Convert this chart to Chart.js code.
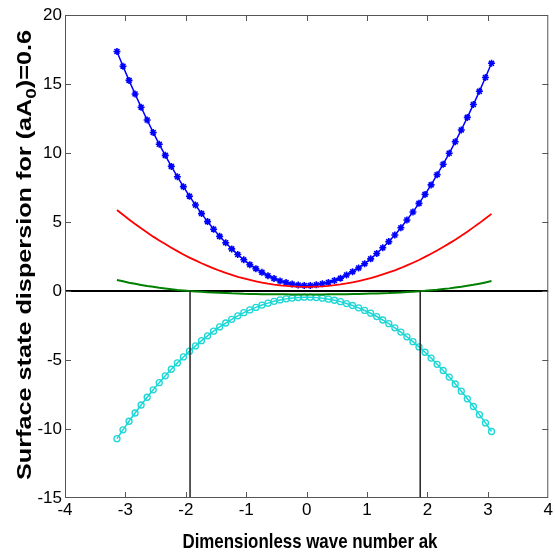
<!DOCTYPE html>
<html>
<head>
<meta charset="utf-8">
<script src="https://cdn.jsdelivr.net/npm/chart.js@4/dist/chart.umd.min.js"></script>
<style>
  html, body { margin: 0; padding: 0; background: #fff; }
</style>
</head>
<body>
<canvas id="chart" width="555" height="559"></canvas>
<script>
// --- data ---
const waveNumber = [-3.14,-3.04,-2.94,-2.84,-2.74,-2.64,-2.54,-2.44,-2.34,-2.24,-2.14,-2.04,-1.94,-1.84,-1.74,-1.64,
  -1.54,-1.44,-1.34,-1.24,-1.14,-1.04,-0.94,-0.84,-0.74,-0.64,-0.54,-0.44,-0.34,-0.24,-0.14,-0.04,
  0.06,0.16,0.26,0.36,0.46,0.56,0.66,0.76,0.86,0.96,1.06,1.16,1.26,1.36,1.46,1.56,
  1.66,1.76,1.86,1.96,2.06,2.16,2.26,2.36,2.46,2.56,2.66,2.76,2.86,2.96,3.06];

const blueBand = [17.36,16.29,15.26,14.28,13.32,12.39,11.49,10.63,9.83,9.03,8.28,7.56,6.87,6.23,5.61,5.03,
  4.48,3.96,3.50,3.05,2.64,2.26,1.91,1.62,1.35,1.11,0.90,0.73,0.61,0.50,0.43,0.40,
  0.40,0.45,0.52,0.62,0.76,0.93,1.16,1.40,1.67,1.98,2.33,2.72,3.13,3.58,4.06,4.58,
  5.15,5.73,6.35,7.00,7.69,8.43,9.19,9.98,10.81,11.67,12.58,13.51,14.47,15.47,16.50];

const redBand = [5.87,5.52,5.18,4.86,4.54,4.24,3.94,3.66,3.40,3.14,2.89,2.65,2.42,2.22,2.01,1.82,
  1.64,1.47,1.32,1.17,1.03,0.91,0.80,0.70,0.61,0.53,0.46,0.41,0.37,0.33,0.31,0.30,
  0.30,0.32,0.34,0.37,0.42,0.48,0.55,0.63,0.72,0.82,0.93,1.06,1.20,1.35,1.50,1.67,
  1.86,2.05,2.25,2.47,2.70,2.94,3.19,3.45,3.72,4.00,4.30,4.61,4.92,5.25,5.59];

const greenBand = [0.80,0.70,0.60,0.52,0.44,0.36,0.30,0.23,0.18,0.13,0.08,0.04,0.00,-0.03,-0.06,-0.09,
  -0.11,-0.13,-0.15,-0.17,-0.18,-0.20,-0.21,-0.22,-0.23,-0.23,-0.24,-0.24,-0.24,-0.25,-0.25,-0.25,
  -0.25,-0.25,-0.25,-0.24,-0.24,-0.24,-0.23,-0.22,-0.21,-0.20,-0.19,-0.18,-0.16,-0.15,-0.13,-0.11,
  -0.08,-0.05,-0.02,0.01,0.05,0.09,0.14,0.19,0.25,0.31,0.38,0.45,0.53,0.62,0.72];

const cyanBand = [-10.70,-10.06,-9.44,-8.84,-8.26,-7.70,-7.16,-6.64,-6.15,-5.67,-5.21,-4.78,-4.36,-3.98,-3.60,-3.25,
  -2.91,-2.60,-2.32,-2.05,-1.80,-1.57,-1.37,-1.19,-1.02,-0.88,-0.75,-0.65,-0.57,-0.51,-0.47,-0.45,
  -0.45,-0.48,-0.52,-0.59,-0.67,-0.77,-0.91,-1.05,-1.22,-1.41,-1.61,-1.85,-2.10,-2.37,-2.67,-2.98,
  -3.32,-3.67,-4.05,-4.44,-4.86,-5.31,-5.76,-6.24,-6.74,-7.26,-7.81,-8.37,-8.96,-9.56,-10.18];

const zeroLineK = [-4, 4];
const crossingK = [-1.93, 1.88];   // where the green band crosses zero
const crossingY = [0, -15];

const xTicks = [-4, -3, -2, -1, 0, 1, 2, 3, 4];
const yTicks = [-15, -10, -5, 0, 5, 10, 15, 20];

const xTitle = 'Dimensionless wave number ak';
const yTitleParts = ['Surface state dispersion for (aA', '0', ')=0.6'];

// --- helpers ---
const pts = (xs, ys) => xs.map((x, i) => ({ x, y: ys[i] }));

const tickFont = '"Liberation Sans", Arial, sans-serif';

// MATLAB style box, inward ticks and axis titles
const matlabAxes = {
  id: 'matlabAxes',
  afterDraw(chart) {
    const { ctx, chartArea: a, scales } = chart;
    const xs = scales.x, ys = scales.y;
    const len = 6;
    ctx.save();
    ctx.strokeStyle = '#555';
    ctx.lineWidth = 1;
    ctx.strokeRect(a.left + 0.5, a.top + 0.5, a.right - a.left - 1, a.bottom - a.top - 1);
    ctx.beginPath();
    xTicks.slice(1, -1).forEach(v => {
      const px = Math.round(xs.getPixelForValue(v)) + 0.5;
      ctx.moveTo(px, a.bottom); ctx.lineTo(px, a.bottom - len);
      ctx.moveTo(px, a.top); ctx.lineTo(px, a.top + len);
    });
    yTicks.slice(1, -1).forEach(v => {
      const py = Math.round(ys.getPixelForValue(v)) + 0.5;
      ctx.moveTo(a.left, py); ctx.lineTo(a.left + len, py);
      ctx.moveTo(a.right, py); ctx.lineTo(a.right - len, py);
    });
    ctx.stroke();
    ctx.restore();

    // x title, squeezed to the narrow face of the original
    ctx.save();
    ctx.fillStyle = '#000';
    ctx.textAlign = 'center';
    ctx.textBaseline = 'middle';
    ctx.font = 'bold 21px "Liberation Sans", Arial, sans-serif';
    const xw = ctx.measureText(xTitle).width;
    ctx.translate(310, 542);
    ctx.scale(255 / xw, 1);
    ctx.fillText(xTitle, 0, 0);
    ctx.restore();

    // y title with subscript, stretched along its length
    ctx.save();
    ctx.fillStyle = '#000';
    const big = 'bold 20px "Liberation Sans", Arial, sans-serif';
    const small = 'bold 15px "Liberation Sans", Arial, sans-serif';
    ctx.textAlign = 'left';
    ctx.textBaseline = 'middle';
    ctx.font = big;
    const w1 = ctx.measureText(yTitleParts[0]).width;
    const w3 = ctx.measureText(yTitleParts[2]).width;
    ctx.font = small;
    const w2 = ctx.measureText(yTitleParts[1]).width;
    const total = w1 + w2 + w3;
    ctx.translate(25, 255);
    ctx.rotate(-Math.PI / 2);
    ctx.scale(450 / total, 1);
    let x = -total / 2;
    ctx.font = big;
    ctx.fillText(yTitleParts[0], x, 0);
    x += w1;
    ctx.font = small;
    ctx.fillText(yTitleParts[1], x, 7);
    x += w2;
    ctx.font = big;
    ctx.fillText(yTitleParts[2], x, 0);
    ctx.restore();
  }
};

const lineSet = (data, color, width, extra) => Object.assign({
  data, borderColor: color, backgroundColor: color, borderWidth: width,
  showLine: true, pointRadius: 0, tension: 0
}, extra || {});

new Chart(document.getElementById('chart'), {
  type: 'scatter',
  data: {
    datasets: [
      lineSet(pts([crossingK[0], crossingK[0]], crossingY), '#222', 1.5),
      lineSet(pts([crossingK[1], crossingK[1]], crossingY), '#222', 1.5),
      lineSet(pts(waveNumber, greenBand), '#008000', 2),
      lineSet(pts(zeroLineK, [0, 0]), '#000', 2),
      lineSet(pts(waveNumber, redBand), '#ff0000', 1.8),
      lineSet(pts(waveNumber, cyanBand), '#1ed6d6', 1.5, {
        pointRadius: 3, pointStyle: 'circle', pointBorderWidth: 1.3,
        pointBackgroundColor: 'rgba(0,0,0,0)', pointBorderColor: '#1ed6d6'
      }),
      lineSet(pts(waveNumber, blueBand), '#0000ff', 1.5, {
        pointRadius: 3.5, pointStyle: 'star', pointBorderWidth: 1.6,
        pointBorderColor: '#0000ff'
      })
    ]
  },
  options: {
    responsive: false,
    animation: false,
    devicePixelRatio: 1,
    layout: { padding: { top: 15, right: 5, left: 0, bottom: 0 } },
    plugins: { legend: { display: false }, tooltip: { enabled: false } },
    scales: {
      x: {
        type: 'linear', min: -4, max: 4,
        afterFit: s => { s.height = 61; },
        afterBuildTicks: s => { s.ticks = xTicks.map(v => ({ value: v })); },
        grid: { display: false, drawTicks: false },
        border: { display: false },
        ticks: { color: '#000', padding: 2, font: { family: tickFont, size: 17 } }
      },
      y: {
        type: 'linear', min: -15, max: 20,
        afterFit: s => { s.width = 65; },
        afterBuildTicks: s => { s.ticks = yTicks.map(v => ({ value: v })); },
        grid: { display: false, drawTicks: false },
        border: { display: false },
        ticks: { color: '#000', padding: 3, font: { family: tickFont, size: 17 } }
      }
    }
  },
  plugins: [matlabAxes]
});
</script>
</body>
</html>
